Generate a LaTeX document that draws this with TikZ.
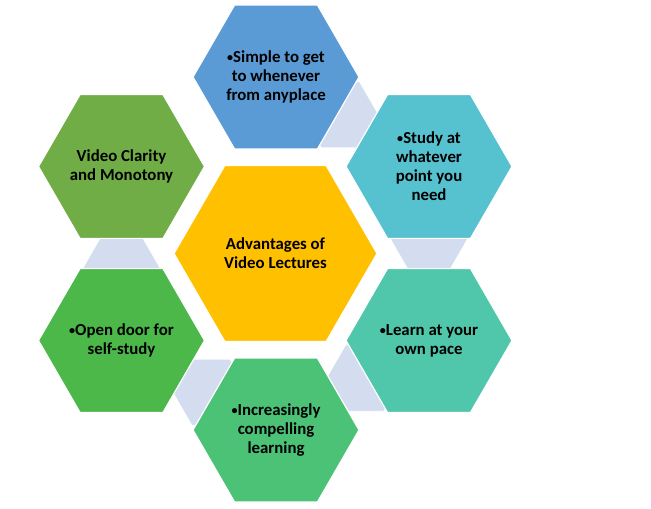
\documentclass[tikz,border=0pt]{standalone}
\usepackage{fontspec}
\usepackage{graphicx}
\setmainfont{Carlito}
\usetikzlibrary{shapes.geometric}
\definecolor{cT}{HTML}{5B9BD5}
\definecolor{cTR}{HTML}{56C1CF}
\definecolor{cBR}{HTML}{50C7AA}
\definecolor{cB}{HTML}{4CC277}
\definecolor{cBL}{HTML}{4BB849}
\definecolor{cTL}{HTML}{70AD47}
\definecolor{cC}{HTML}{FFC000}
\definecolor{linkc}{HTML}{D3DDEF}
\newcommand{\smallbul}{\raisebox{0.12ex}{\scalebox{0.72}{•}}}
\begin{document}
\begin{tikzpicture}[x=1pt,y=-1pt,
  hexbig/.style={regular polygon, regular polygon sides=6, minimum size=166pt,
    inner sep=0pt, outer sep=0pt, draw=white, line width=1.2pt},
  hexlink/.style={regular polygon, regular polygon sides=6, minimum size=76.6pt,
    inner sep=0pt, outer sep=0pt, fill=linkc, draw=white, line width=0.8pt},
  txt/.style={font=\bfseries\fontsize{16.8}{19}\selectfont, align=center, text=black, inner sep=0pt}]
\useasboundingbox[fill=white] (0,0) rectangle (651,509);
% connecting hexagons (partly hidden)
\node[hexlink] (l1) at (340.3,114.6) {};
\node[hexlink] (l2) at (429,239.6) {};
\node[hexlink] (l3) at (364.7,378.1) {};
\node[hexlink] (l4) at (211.1,392.4) {};
\node[hexlink] (l5) at (121.5,267.4) {};
% main hexagons
\node[hexbig, fill=cT]  (T)  at (276,77) {};
\node[hexbig, fill=cTR] (TR) at (429,166.5) {};
\node[hexbig, fill=cBR] (BR) at (429,340.5) {};
\node[hexbig, fill=cB]  (B)  at (276,430) {};
\node[hexbig, fill=cBL] (BL) at (121.5,340.5) {};
\node[hexbig, fill=cTL] (TL) at (121.5,166.5) {};
\node[hexbig, fill=cC, minimum size=203pt] (C) at (275.5,253.5) {};
% texts
\node[txt] (tT)  at (T.center)  {\smallbul Simple to get\\to whenever\\from anyplace};
\node[txt] (tTR) at (TR.center) {\smallbul Study at\\whatever\\point you\\need};
\node[txt] (tBR) at (BR.center) {\smallbul Learn at your\\own pace};
\node[txt] (tB)  at (B.center)  {\smallbul Increasingly\\compelling\\learning};
\node[txt] (tBL) at (BL.center) {\smallbul Open door for\\self-study};
\node[txt] (tTL) at (TL.center) {Video Clarity\\and Monotony};
\node[txt] (tC)  at (C.center)  {Advantages of\\Video Lectures};
\end{tikzpicture}
\end{document}
